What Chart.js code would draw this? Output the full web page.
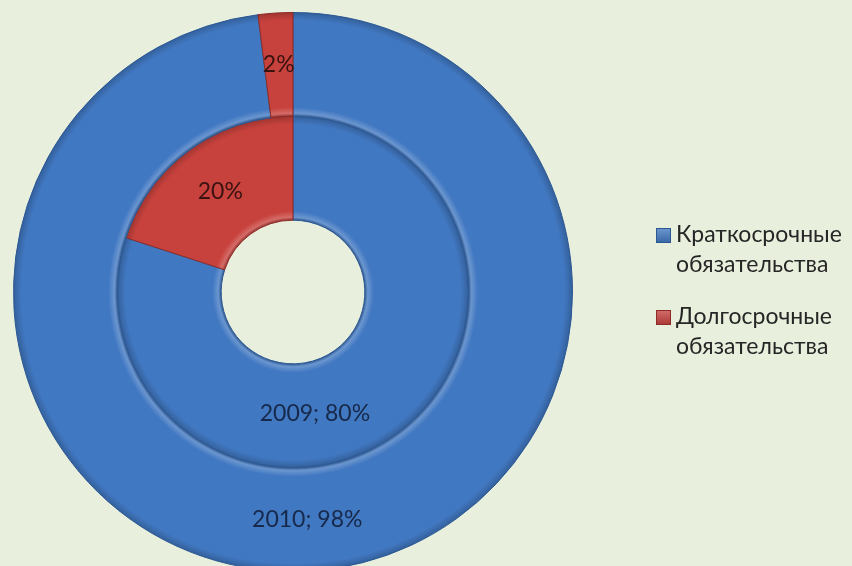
<!DOCTYPE html>
<html lang="ru">
<head>
<meta charset="utf-8">
<title>Структура обязательств</title>
<script src="https://cdn.jsdelivr.net/npm/chart.js@4.4.1/dist/chart.umd.min.js"></script>
<style>
  html, body { margin: 0; padding: 0; background: #e8efdc; overflow: hidden; }
  #wrap { position: absolute; left: 0; top: 0; width: 852px; height: 584px; }
</style>
</head>
<body>
<div id="wrap"><canvas id="debtChart" width="852" height="584"></canvas></div>
<script>
// Données
const categories = ["Краткосрочные обязательства", "Долгосрочные обязательства"];
const years = ["2010", "2009"];          // anneau extérieur, puis intérieur
const values2010 = [98, 2];
const values2009 = [80, 20];

const baseColors = ["#4178c2", "#c8423d"];
const edgeColors = ["#2b5894", "#8c2b28"];
const textColors = ["#17294a", "#3a1210"];
const FONT = "Lato, 'Open Sans', sans-serif";

function shade(hex, amt) {
  const n = parseInt(hex.slice(1), 16);
  let r = (n >> 16) & 255, g = (n >> 8) & 255, b = n & 255;
  const f = (c) => Math.max(0, Math.min(255, Math.round(amt < 0 ? c * (1 + amt) : c + (255 - c) * amt)));
  return `rgb(${f(r)},${f(g)},${f(b)})`;
}

// dégradé radial pour imiter le relief des anneaux
function ringGradient(ctx) {
  const chart = ctx.chart;
  const base = baseColors[ctx.dataIndex];
  const ctrl = chart.getDatasetMeta(ctx.datasetIndex).controller;
  const area = chart.chartArea;
  if (!area || !ctrl.outerRadius) return base;
  const cx = (area.left + area.right) / 2;
  const cy = (area.top + area.bottom) / 2;
  const rIn = ctrl.innerRadius, rOut = ctrl.outerRadius;
  const g = chart.ctx.createRadialGradient(cx, cy, rIn, cx, cy, rOut);
  const span = rOut - rIn;
  g.addColorStop(0, shade(base, -0.25));
  g.addColorStop(3 / span, shade(base, 0.22));
  g.addColorStop(9 / span, base);
  g.addColorStop(1 - 8 / span, base);
  g.addColorStop(1, shade(base, -0.2));
  return g;
}

// étiquettes des secteurs (placées au milieu de l'anneau, comme Excel)
const sliceLabels = {
  id: "sliceLabels",
  afterDatasetsDraw(chart) {
    const ctx = chart.ctx;
    ctx.save();
    ctx.font = "23px " + FONT;
    ctx.textAlign = "center";
    ctx.textBaseline = "middle";
    chart.data.datasets.forEach((ds, di) => {
      const meta = chart.getDatasetMeta(di);
      meta.data.forEach((arc, i) => {
        const { x, y, startAngle, endAngle, innerRadius, outerRadius } = arc.getProps(
          ["x", "y", "startAngle", "endAngle", "innerRadius", "outerRadius"], true);
        // le grand secteur de l'anneau intérieur a son étiquette plus bas
        const bias = di === 1 && i === 0 ? 0.45 : 0;
        const a = (startAngle + endAngle) / 2 + bias;
        const r = (innerRadius + outerRadius) / 2;
        const txt = i === 0 ? ds.label + "; " + ds.data[i] + "%" : ds.data[i] + "%";
        ctx.fillStyle = textColors[i];
        ctx.fillText(txt, x + Math.cos(a) * r, y + Math.sin(a) * r);
      });
    });
    ctx.restore();
  },
};

// légende à droite (deux lignes par élément)
const sideLegend = {
  id: "sideLegend",
  afterDraw(chart) {
    const ctx = chart.ctx;
    ctx.save();
    ctx.font = "23px " + FONT;
    ctx.textBaseline = "middle";
    categories.forEach((cat, i) => {
      const y = 235 + i * 82;
      const sq = ctx.createLinearGradient(0, y - 8, 0, y + 8);
      sq.addColorStop(0, shade(baseColors[i], 0.25));
      sq.addColorStop(1, shade(baseColors[i], -0.15));
      ctx.fillStyle = sq;
      ctx.fillRect(656, y - 7, 15, 15);
      ctx.strokeStyle = edgeColors[i];
      ctx.lineWidth = 1;
      ctx.strokeRect(656.5, y - 6.5, 14, 14);
      ctx.fillStyle = "#262626";
      cat.split(" ").forEach((line, k) => ctx.fillText(line, 676, y + k * 30));
    });
    ctx.restore();
  },
};

const ctx = document.getElementById("debtChart").getContext("2d");
new Chart(ctx, {
  type: "doughnut",
  data: {
    labels: categories,
    datasets: [
      { label: years[0], data: values2010, backgroundColor: ringGradient, borderColor: edgeColors, borderWidth: 1 },
      { label: years[1], data: values2009, backgroundColor: ringGradient, borderColor: edgeColors, borderWidth: 1 },
    ],
  },
  options: {
    responsive: false,
    animation: false,
    cutout: "25.7%",
    layout: { padding: { left: 13, right: 279, top: 12, bottom: 12 } },
    plugins: {
      legend: { display: false },
      tooltip: { enabled: false },
    },
  },
  plugins: [sliceLabels, sideLegend],
});
</script>
</body>
</html>
